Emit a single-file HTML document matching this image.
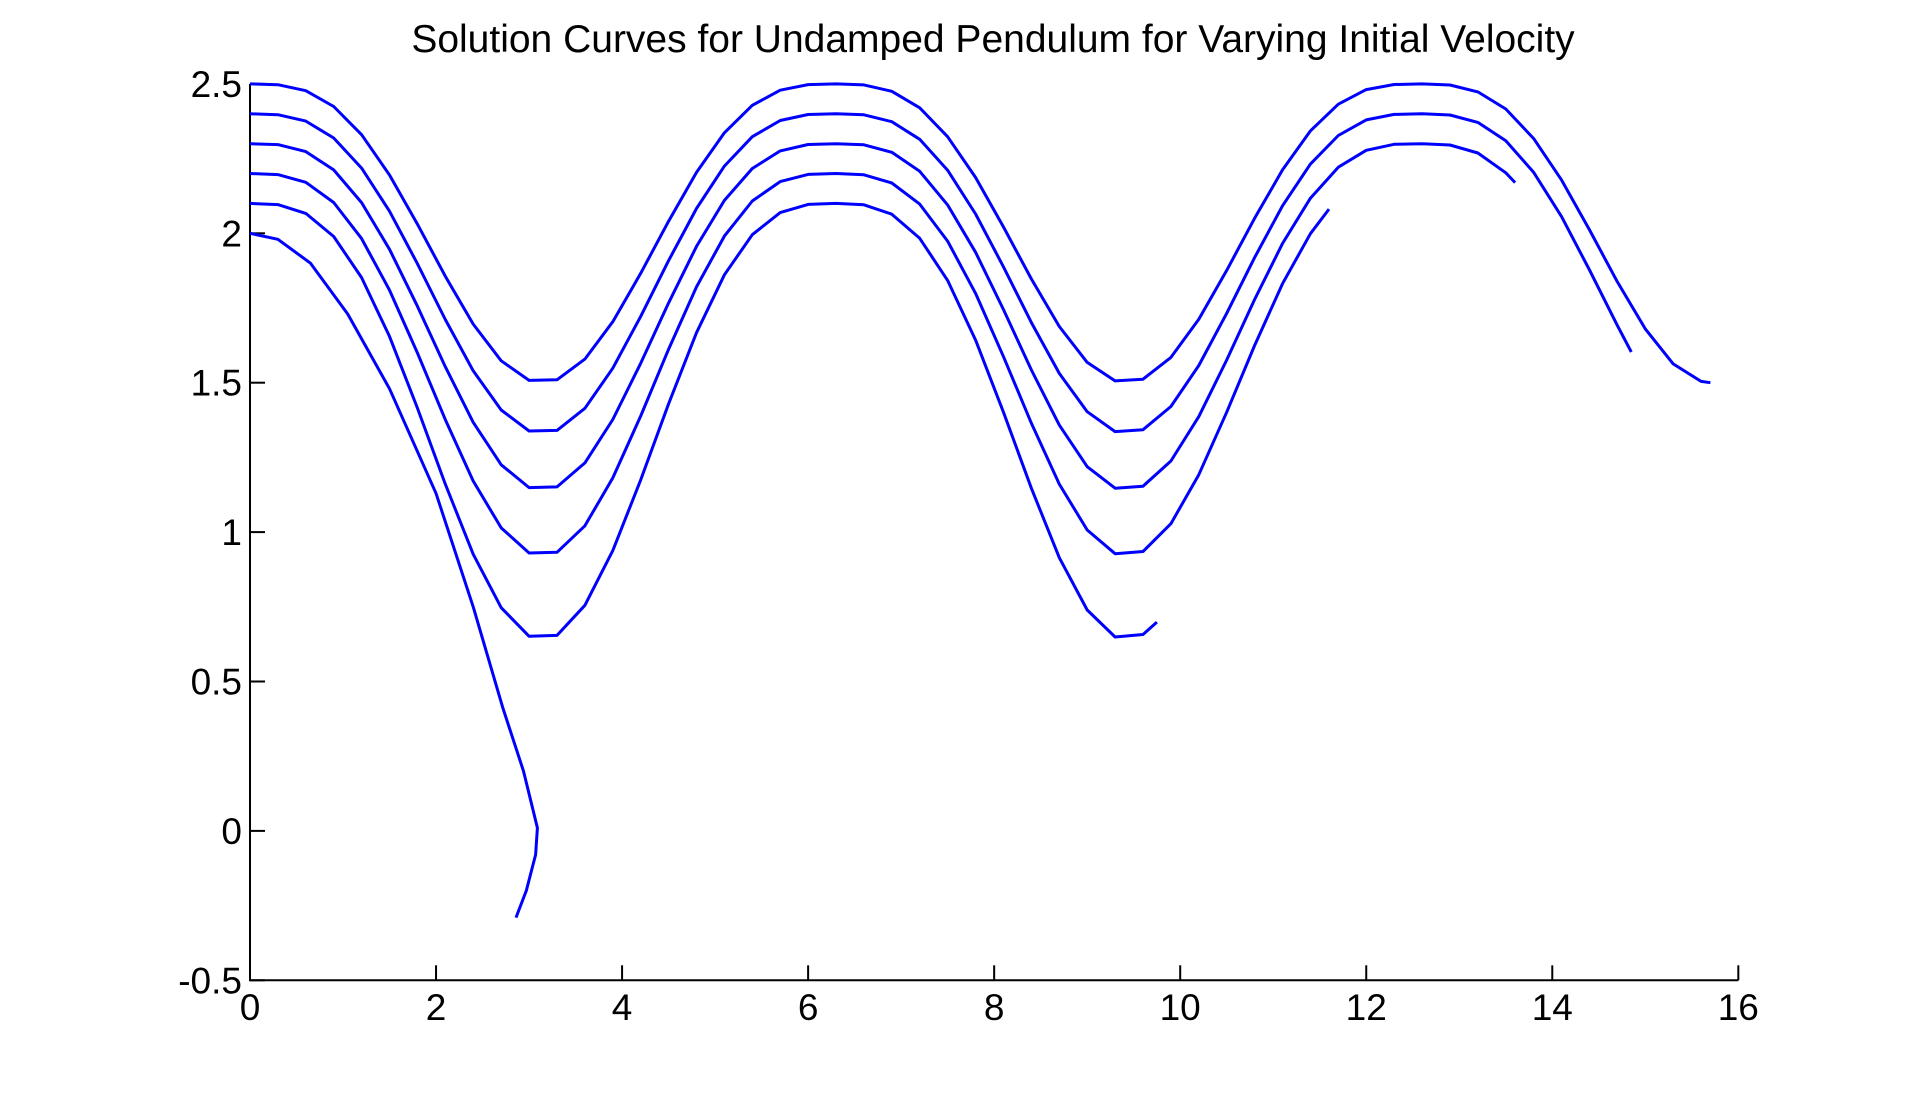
<!DOCTYPE html>
<html><head><meta charset="utf-8"><style>
html,body{margin:0;padding:0;background:#fff;width:1920px;height:1101px;overflow:hidden}
svg text{font-family:"Liberation Sans",Arial,sans-serif;fill:#000}
</style></head><body>
<svg id="s" width="1920" height="1101" xmlns="http://www.w3.org/2000/svg">
<rect width="1920" height="1101" fill="#fff"/>
<text x="993" y="52" font-size="39" text-anchor="middle">Solution Curves for Undamped Pendulum for Varying Initial Velocity</text>
<g id="ax" stroke="#000" stroke-width="2" fill="none"></g>
<g id="lab" font-size="37"></g>
<g id="cur" stroke="#0000ff" stroke-width="3" fill="none" stroke-linejoin="round"></g>
</svg>
<script>
var X0=250,SX=93.02,Y0=980.3,SY=298.8;
function px(x){return X0+x*SX}function py(y){return Y0-(y+0.5)*SY}
var ax=document.getElementById('ax'),lab=document.getElementById('lab'),cur=document.getElementById('cur');
var ns='http://www.w3.org/2000/svg';
function el(p,t,a,txt){var e=document.createElementNS(ns,t);for(var k in a)e.setAttribute(k,a[k]);if(txt!=null)e.textContent=txt;p.appendChild(e);return e}
el(ax,'path',{d:'M'+px(0)+' '+py(2.5)+'V'+py(-0.5)+'H'+px(16)});
for(var i=0;i<=8;i++){var x=px(2*i);el(ax,'path',{d:'M'+x+' '+Y0+'v-15'});
 el(lab,'text',{x:x,y:1020,'text-anchor':'middle'},String(2*i));}
var yt=[-0.5,0,0.5,1,1.5,2,2.5];
yt.forEach(function(v){var y=py(v);el(ax,'path',{d:'M'+X0+' '+y+'h15'});
 el(lab,'text',{x:X0-8,y:y+13,'text-anchor':'end'},String(v));});
var curves=[[2.5,1.5,15.7],[2.4,1.33,14.85],[2.3,1.14,13.6],[2.2,0.92,11.6],[2.1,0.64,9.75]];
curves.forEach(function(c){var s=c[0],m=c[1],d='';
 var ts=[];for(var t=0;t<c[2];t+=0.3)ts.push(t);ts.push(c[2]);
 ts.forEach(function(t){var g=Math.pow((1-Math.cos(t))/2,1.55);
  d+=(d?'L':'M')+px(t).toFixed(1)+' '+py(s-(s-m)*g).toFixed(1);});
 el(cur,'path',{d:d});});
var dv=[[0,2.0],[0.3,1.98],[0.65,1.9],[1.05,1.73],[1.5,1.48],[2.0,1.13],[2.4,0.75],[2.72,0.41],[2.94,0.2],[3.09,0.01],[3.07,-0.08],[2.97,-0.2],[2.86,-0.29]];
el(cur,'path',{d:dv.map(function(p,i){return (i?'L':'M')+px(p[0]).toFixed(1)+' '+py(p[1]).toFixed(1)}).join('')});
</script>
</body></html>
